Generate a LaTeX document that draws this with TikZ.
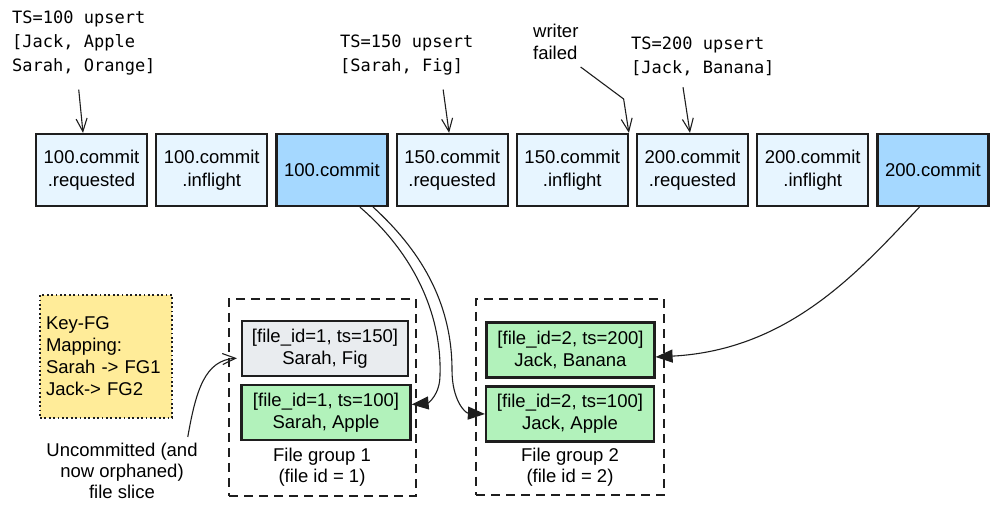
\documentclass[tikz,border=0pt]{standalone}
\usepackage{fontspec}
\setmainfont{Liberation Sans}
\newfontfamily\annofont{DejaVu Sans Mono}
\usepackage{xcolor}
\usepackage{tikz}
\usetikzlibrary{
  arrows.meta,
  positioning,
  calc
}
\definecolor{HudiInk}{HTML}{1E1E1E}
\definecolor{HudiPale}{HTML}{E7F5FF}
\definecolor{HudiBlue}{HTML}{A5D8FF}
\definecolor{HudiGreen}{HTML}{B2F2BB}
\definecolor{HudiGrey}{HTML}{E9ECEF}
\definecolor{HudiYellow}{HTML}{FFEC99}

\tikzset{
  instant/.style={draw=HudiInk, line width=2.2pt, fill=HudiPale,
    minimum width=111pt, minimum height=72pt, inner sep=2pt, align=center,
    font=\fontsize{18.5}{23}\selectfont},
  done/.style={instant, fill=HudiBlue},
  slice/.style={draw=HudiInk, line width=2.2pt, fill=HudiGreen,
    minimum width=168pt, minimum height=55pt, inner sep=2pt, align=center,
    font=\fontsize{18.5}{22}\selectfont},
  fgbox/.style={draw=HudiInk, line width=1.8pt, dash pattern=on 9pt off 6pt,
    inner sep=0pt},
  keybox/.style={draw=HudiInk, line width=1.8pt, dash pattern=on 1.8pt off 2.6pt,
    fill=HudiYellow, minimum width=132pt, minimum height=123pt,
    text width=120pt, inner sep=6pt, align=left,
    font=\fontsize{18.5}{22}\selectfont},
  note/.style={anchor=north west, inner sep=0pt, align=left,
    font=\annofont\fontsize{17}{24}\selectfont},
  plain/.style={inner sep=1pt, align=center, font=\fontsize{18.5}{21}\selectfont},
  lead/.style={draw=HudiInk, line width=1.1pt, -{Straight Barb[length=13pt,width=11pt]}},
  feed/.style={draw=HudiInk, line width=1.1pt, -{Triangle[length=17pt,width=13pt]}}
}

\begin{document}
\begin{tikzpicture}[x=1pt, y=-1pt]
  \useasboundingbox (0,0) rectangle (999,518);

  % timeline
  \node[instant] (c1) at (91.5,170) {100.commit\\.requested};
  \node[instant, right=7pt of c1] (c2) {100.commit\\.inflight};
  \node[done, right=7pt of c2] (c3) {100.commit};
  \node[instant, right=7pt of c3] (c4) {150.commit\\.requested};
  \node[instant, right=7pt of c4] (c5) {150.commit\\.inflight};
  \node[instant, right=7pt of c5] (c6) {200.commit\\.requested};
  \node[instant, right=7pt of c6] (c7) {200.commit\\.inflight};
  \node[done, right=7pt of c7] (c8) {200.commit};

  % writes
  \node[note] (ts100) at (12,11) {TS=100 upsert\\{[}Jack, Apple\\Sarah, Orange]};
  \node[note] (ts150) at (340,35) {TS=150 upsert\\{[}Sarah, Fig]};
  \node[note] (ts200) at (631,37) {TS=200 upsert\\{[}Jack, Banana]};
  \node[note, font=\fontsize{18.5}{22}\selectfont] (writer) at (533,24) {writer\\failed};

  \draw[lead, shorten <=14pt] ([xshift=-6.5pt]ts100.south) -- ([xshift=-8.5pt]c1.north);
  \draw[lead, shorten <=14pt] ([xshift=34.5pt]ts150.south) -- ([xshift=-3pt]c4.north);
  \draw[lead, shorten <=11pt] ([xshift=-21.5pt]ts200.south) -- ([xshift=-2.5pt]c6.north);
  \draw[lead] ([shift={(2,7)}]writer.south east) -- ++(43,32) -- (c5.north east);

  % file groups
  \node[fgbox, minimum width=187pt, minimum height=197pt] (fg1) at (322.5,397.5) {};
  \node[fgbox, minimum width=188pt, minimum height=196pt] (fg2) at (570,397) {};

  \node[slice, fill=HudiGrey, minimum width=166pt] (fig) at (325,348.5) {[file\_id=1, ts=150]\\Sarah, Fig};
  \node[slice, minimum width=169pt] (apple1) at (326,412.5) {[file\_id=1, ts=100]\\Sarah, Apple};
  \node[plain, anchor=north] (fg1txt) at (322,447) {File group 1\\(file id = 1)};

  \node[slice] (banana) at (570.5,350) {[file\_id=2, ts=200]\\Jack, Banana};
  \node[slice] (apple2) at (570,414) {[file\_id=2, ts=100]\\Jack, Apple};
  \node[plain, anchor=north] (fg2txt) at (570,447) {File group 2\\(file id = 2)};

  \node[keybox] (keyfg) at (106,356.5) {Key-FG\\Mapping:\\Sarah -> FG1\\Jack-> FG2};
  \node[plain, anchor=north] (orphan) at (122,442) {Uncommitted (and\\now orphaned)\\file slice};

  % links
  \draw[feed] (c3.-53) .. controls (410,250) and (442,310) .. (440,375)
    .. controls (440,395) and (428,403) .. ([yshift=8pt]apple1.east);
  \draw[feed] (c3.-42) .. controls (418,248) and (452,300) .. (452,370)
    .. controls (452,400) and (465,413) .. (apple2.west);
  \draw[feed] (c8.-110) .. controls (860,270) and (790,350) .. ([yshift=-7pt]banana.east);
  \draw[lead, shorten >=4pt] ([shift={(-11,-5)}]orphan.north east)
    .. controls (196,390) and (205,360) .. ([yshift=-9.5pt]fig.west);
\end{tikzpicture}
\end{document}
